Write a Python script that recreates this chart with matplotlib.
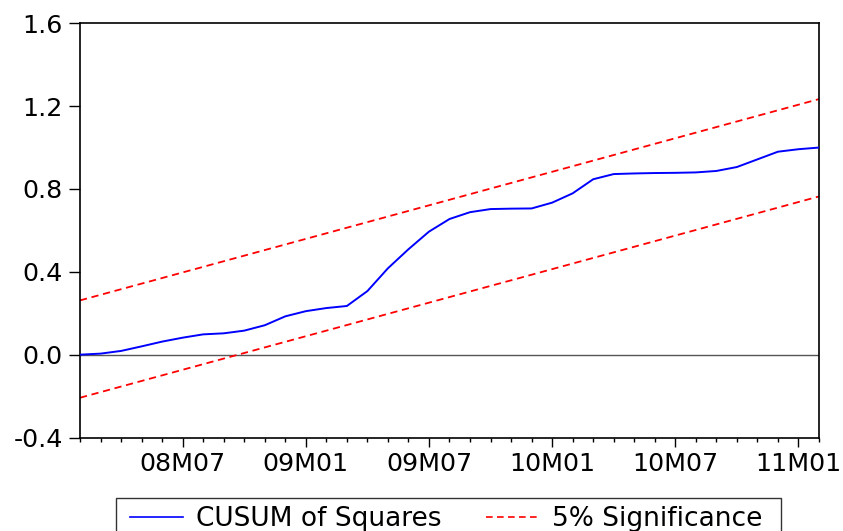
import numpy as np
import pandas as pd
import matplotlib
matplotlib.use("Agg")
import matplotlib.pyplot as plt
from matplotlib.patches import Rectangle

# ---- data ----
start_month = "2008-02"
end_month = "2011-02"
cusum_sq = [0.000, 0.005, 0.018, 0.040, 0.063, 0.082, 0.098, 0.103, 0.116, 0.142,
            0.185, 0.210, 0.225, 0.235, 0.307, 0.417, 0.509, 0.594, 0.655, 0.688,
            0.703, 0.705, 0.706, 0.734, 0.779, 0.847, 0.872, 0.875, 0.877, 0.878,
            0.880, 0.887, 0.906, 0.943, 0.980, 0.992, 1.000]
sig_upper = [0.262, 1.234]   # at first and last month
sig_lower = [-0.208, 0.764]
major_labels = ["08M07", "09M01", "09M07", "10M01", "10M07", "11M01"]
ytick_vals = [-0.4, 0.0, 0.4, 0.8, 1.2, 1.6]
ytick_labels = ["-0.4", "0.0", "0.4", "0.8", "1.2", "1.6"]

months = pd.period_range(start_month, end_month, freq="M")
month_labels = [f"{p.year % 100:02d}M{p.month:02d}" for p in months]
x = np.arange(len(months))
major_idx = [month_labels.index(l) for l in major_labels]

# ---- figure ----
W, H = 843, 531
fig = plt.figure(figsize=(W / 100, H / 100), dpi=100)
left, right, top, bottom = 80, 819, 23.3, 437.5
ax = fig.add_axes([left / W, 1 - bottom / H, (right - left) / W, (bottom - top) / H])

font = "DejaVu Sans"
red_dash = (4.0, 2.6)

ax.axhline(0, color="#555555", lw=1.0, zorder=1)
ax.plot(x[[0, -1]], sig_upper, color="#ff0000", lw=1.3, dashes=red_dash, zorder=2)
ax.plot(x[[0, -1]], sig_lower, color="#ff0000", lw=1.3, dashes=red_dash, zorder=2)
ax.plot(x, cusum_sq, color="#0000ff", lw=1.4, zorder=3)

ax.set_xlim(x[0], x[-1])
ax.set_ylim(-0.4, 1.6)
ax.set_yticks(ytick_vals, labels=ytick_labels, fontfamily=font, fontsize=18.3)
ax.set_xticks(major_idx, labels=major_labels, fontfamily=font, fontsize=18.3)
ax.set_xticks(x, minor=True)
ax.tick_params(axis="y", which="major", direction="out", length=8, width=1.0, pad=4.5, colors="black")
ax.tick_params(axis="x", which="major", direction="out", length=6.5, width=1.0, pad=4.0, colors="black")
ax.tick_params(axis="x", which="minor", direction="out", length=3.2, width=1.0)
ax.tick_params(axis="y", which="minor", length=0)

for s in ax.spines.values():
    s.set_linewidth(1.2)
    s.set_color("black")

# ---- legend ----
h1, = ax.plot([], [], color="#0000ff", lw=1.2, label="CUSUM of Squares")
h2, = ax.plot([], [], color="#ff0000", lw=1.2, dashes=red_dash, label="5% Significance")
leg = fig.legend(handles=[h1, h2], loc="center left",
                 bbox_to_anchor=(130 / W, 1 - 519 / H), bbox_transform=fig.transFigure,
                 ncol=2, frameon=False, borderpad=0, borderaxespad=0,
                 handlelength=2.0, handletextpad=0.5, columnspacing=1.7,
                 prop={"family": font, "size": 19})
fig.patches.append(Rectangle((115.7 / W, 1 - 545 / H), (781 - 115.7) / W, (545 - 498.3) / H,
                             transform=fig.transFigure, fill=False, edgecolor="#333333",
                             lw=1.0, clip_on=False))

fig.savefig("out.png", dpi=100, facecolor="white")
